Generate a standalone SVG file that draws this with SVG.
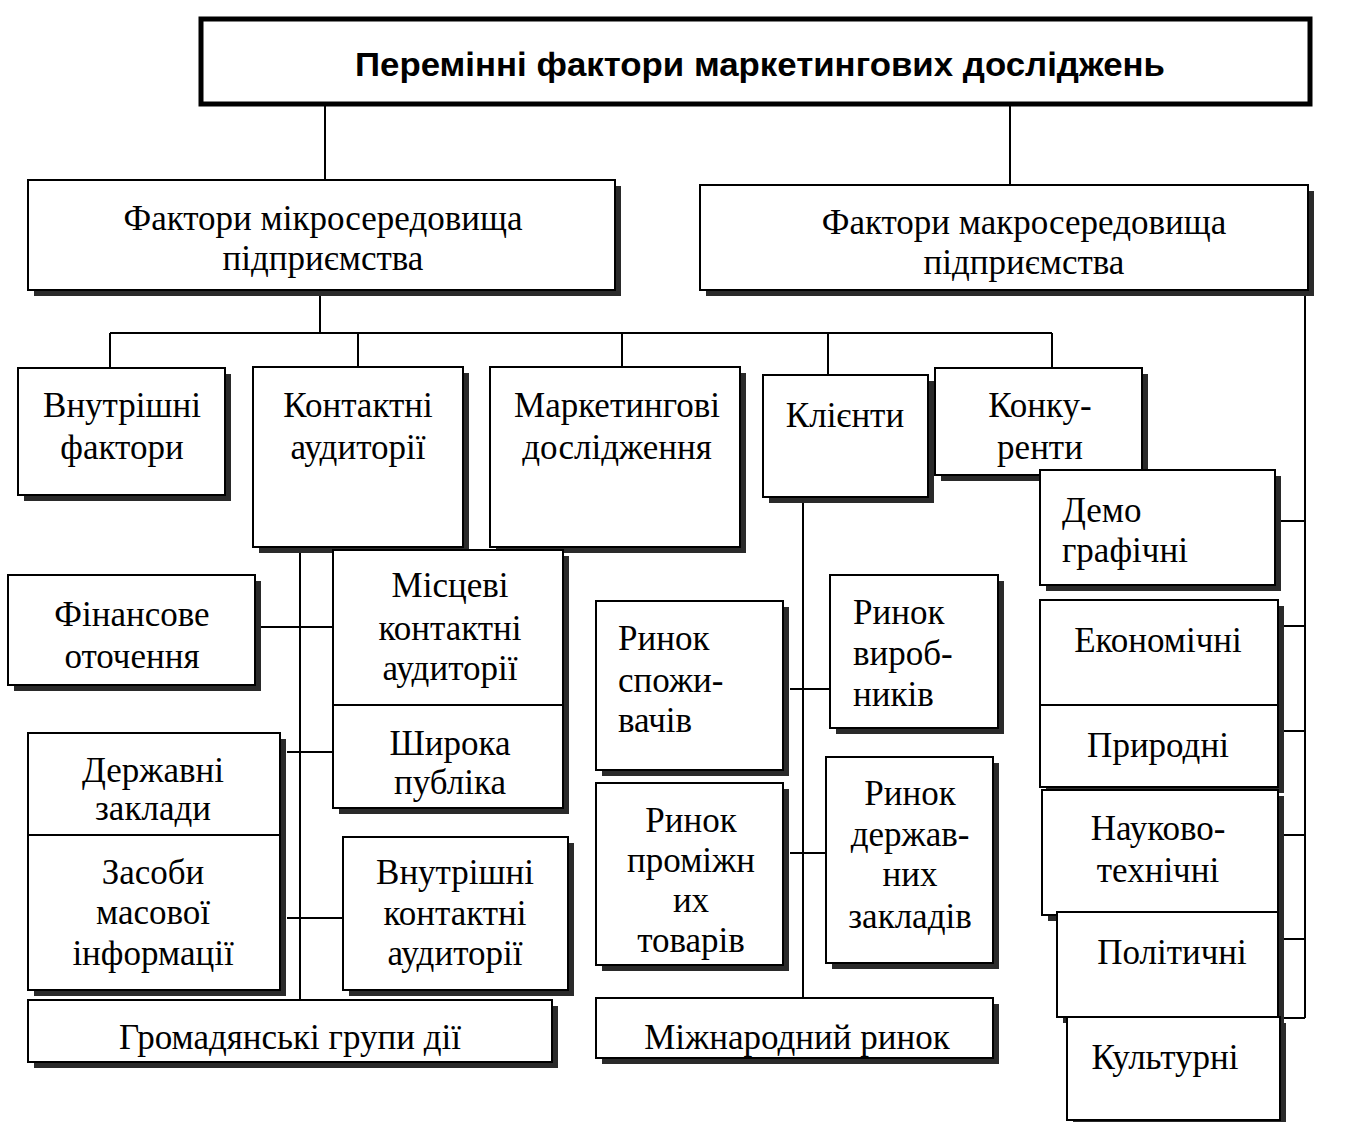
<svg xmlns="http://www.w3.org/2000/svg" width="1355" height="1122" viewBox="0 0 1355 1122">
<style>
.bg{fill:#fff}
.box{fill:#fff;stroke:#000;stroke-width:2}
.sh{fill:#2a2a2a}
.t{font-family:"Liberation Serif","Times New Roman",serif;font-size:35px;fill:#000;text-anchor:middle}
.l{text-anchor:start}
.h{font-family:"Liberation Sans",Arial,sans-serif;font-size:33px;font-weight:bold;fill:#000;text-anchor:middle}
.c line{stroke:#000;stroke-width:2}
</style>
<rect class="bg" x="0" y="0" width="1355" height="1122"/>
<g class="c" id="connectors">
<line x1="325" y1="105" x2="325" y2="180"/>
<line x1="1010" y1="105" x2="1010" y2="185"/>
<line x1="320" y1="296" x2="320" y2="333"/>
<line x1="110" y1="333" x2="1052" y2="333"/>
<line x1="110" y1="333" x2="110" y2="368"/>
<line x1="358" y1="333" x2="358" y2="367"/>
<line x1="622" y1="333" x2="622" y2="367"/>
<line x1="828" y1="333" x2="828" y2="375"/>
<line x1="1052" y1="333" x2="1052" y2="368"/>
<line x1="1305" y1="296" x2="1305" y2="1018"/>
<line x1="1281" y1="521" x2="1305" y2="521"/>
<line x1="1281" y1="626" x2="1305" y2="626"/>
<line x1="1281" y1="731" x2="1305" y2="731"/>
<line x1="1281" y1="835" x2="1305" y2="835"/>
<line x1="1281" y1="939" x2="1305" y2="939"/>
<line x1="1281" y1="1018" x2="1305" y2="1018"/>
<line x1="300" y1="543" x2="300" y2="1000"/>
<line x1="256" y1="627" x2="340" y2="627"/>
<line x1="287" y1="752" x2="333" y2="752"/>
<line x1="287" y1="918" x2="343" y2="918"/>
<line x1="803" y1="503" x2="803" y2="998"/>
<line x1="790" y1="689" x2="830" y2="689"/>
<line x1="790" y1="853" x2="826" y2="853"/>
</g>
<g id="n-title">
<rect x="201" y="19" width="1109" height="85" fill="#fff" stroke="#000" stroke-width="5"/>
<text class="h" x="760" y="76" textLength="810" lengthAdjust="spacingAndGlyphs">Перемінні фактори маркетингових досліджень</text>
</g>
<g id="n-micro">
<rect class="sh" x="34" y="186" width="587" height="110"/>
<rect class="box" x="28" y="180" width="587" height="110"/>
<text class="t" x="323" y="230">Фактори мікросередовища</text>
<text class="t" x="323" y="270">підприємства</text>
</g>
<g id="n-macro">
<rect class="sh" x="706" y="191" width="608" height="105"/>
<rect class="box" x="700" y="185" width="608" height="105"/>
<text class="t" x="1024" y="234">Фактори макросередовища</text>
<text class="t" x="1024" y="274">підприємства</text>
</g>
<g id="n-vnutr">
<rect class="sh" x="24" y="374" width="207" height="127"/>
<rect class="box" x="18" y="368" width="207" height="127"/>
<text class="t" x="122" y="417">Внутрішні</text>
<text class="t" x="122" y="459">фактори</text>
</g>
<g id="n-kontakt">
<rect class="sh" x="259" y="373" width="210" height="180"/>
<rect class="box" x="253" y="367" width="210" height="180"/>
<text class="t" x="358" y="417">Контактні</text>
<text class="t" x="358" y="459">аудиторії</text>
</g>
<g id="n-market">
<rect class="sh" x="496" y="373" width="250" height="180"/>
<rect class="box" x="490" y="367" width="250" height="180"/>
<text class="t" x="617" y="417">Маркетингові</text>
<text class="t" x="617" y="459">дослідження</text>
</g>
<g id="n-klienty">
<rect class="sh" x="769" y="381" width="165" height="122"/>
<rect class="box" x="763" y="375" width="165" height="122"/>
<text class="t" x="845" y="427">Клієнти</text>
</g>
<g id="n-konk">
<rect class="sh" x="941" y="374" width="207" height="107"/>
<rect class="box" x="935" y="368" width="207" height="107"/>
<text class="t" x="1040" y="417">Конку-</text>
<text class="t" x="1040" y="459">ренти</text>
</g>
<g id="n-demo">
<rect class="sh" x="1046" y="476" width="235" height="115"/>
<rect class="box" x="1040" y="470" width="235" height="115"/>
<text class="t l" x="1062" y="522">Демо</text>
<text class="t l" x="1062" y="562">графічні</text>
</g>
<g id="n-econ">
<rect class="sh" x="1046" y="606" width="238" height="105"/>
<rect class="box" x="1040" y="600" width="238" height="105"/>
<text class="t" x="1158" y="652">Економічні</text>
</g>
<g id="n-pryr">
<rect class="sh" x="1046" y="711" width="238" height="82"/>
<rect class="box" x="1040" y="705" width="238" height="82"/>
<text class="t" x="1158" y="757">Природні</text>
</g>
<g id="n-nauk">
<rect class="sh" x="1048" y="796" width="236" height="125"/>
<rect class="box" x="1042" y="790" width="236" height="125"/>
<text class="t" x="1158" y="840">Науково-</text>
<text class="t" x="1158" y="882">технічні</text>
</g>
<g id="n-polit">
<rect class="sh" x="1063" y="918" width="221" height="105"/>
<rect class="box" x="1057" y="912" width="221" height="105"/>
<text class="t" x="1172" y="964">Політичні</text>
</g>
<g id="n-kult">
<rect class="sh" x="1073" y="1023" width="213" height="103"/>
<rect class="box" x="1067" y="1017" width="213" height="103"/>
<text class="t" x="1165" y="1069">Культурні</text>
</g>
<g id="n-fin">
<rect class="sh" x="14" y="581" width="247" height="110"/>
<rect class="box" x="8" y="575" width="247" height="110"/>
<text class="t" x="132" y="626">Фінансове</text>
<text class="t" x="132" y="668">оточення</text>
</g>
<g id="n-mist">
<rect class="sh" x="339" y="556" width="230" height="155"/>
<rect class="box" x="333" y="550" width="230" height="155"/>
<text class="t" x="450" y="597">Місцеві</text>
<text class="t" x="450" y="640">контактні</text>
<text class="t" x="450" y="680">аудиторії</text>
</g>
<g id="n-shyr">
<rect class="sh" x="339" y="711" width="230" height="103"/>
<rect class="box" x="333" y="705" width="230" height="103"/>
<text class="t" x="450" y="755">Широка</text>
<text class="t" x="450" y="794">публіка</text>
</g>
<g id="n-derzh">
<rect class="sh" x="34" y="739" width="252" height="102"/>
<rect class="box" x="28" y="733" width="252" height="102"/>
<text class="t" x="153" y="782">Державні</text>
<text class="t" x="153" y="820">заклади</text>
</g>
<g id="n-zmi">
<rect class="sh" x="34" y="841" width="252" height="155"/>
<rect class="box" x="28" y="835" width="252" height="155"/>
<text class="t" x="153" y="884">Засоби</text>
<text class="t" x="153" y="924">масової</text>
<text class="t" x="153" y="965">інформації</text>
</g>
<g id="n-vnkont">
<rect class="sh" x="349" y="843" width="225" height="153"/>
<rect class="box" x="343" y="837" width="225" height="153"/>
<text class="t" x="455" y="884">Внутрішні</text>
<text class="t" x="455" y="925">контактні</text>
<text class="t" x="455" y="965">аудиторії</text>
</g>
<g id="n-hromad">
<rect class="sh" x="34" y="1006" width="524" height="62"/>
<rect class="box" x="28" y="1000" width="524" height="62"/>
<text class="t" x="290" y="1049">Громадянські групи дії</text>
</g>
<g id="n-spozh">
<rect class="sh" x="602" y="607" width="187" height="169"/>
<rect class="box" x="596" y="601" width="187" height="169"/>
<text class="t l" x="618" y="650">Ринок</text>
<text class="t l" x="618" y="692">спожи-</text>
<text class="t l" x="618" y="732">вачів</text>
</g>
<g id="n-vyrob">
<rect class="sh" x="836" y="581" width="168" height="153"/>
<rect class="box" x="830" y="575" width="168" height="153"/>
<text class="t l" x="853" y="624">Ринок</text>
<text class="t l" x="853" y="665">вироб-</text>
<text class="t l" x="853" y="706">ників</text>
</g>
<g id="n-promizh">
<rect class="sh" x="602" y="789" width="187" height="182"/>
<rect class="box" x="596" y="783" width="187" height="182"/>
<text class="t" x="691" y="832">Ринок</text>
<text class="t" x="691" y="872">проміжн</text>
<text class="t" x="691" y="912">их</text>
<text class="t" x="691" y="952">товарів</text>
</g>
<g id="n-derzhzakl">
<rect class="sh" x="832" y="763" width="167" height="206"/>
<rect class="box" x="826" y="757" width="167" height="206"/>
<text class="t" x="910" y="805">Ринок</text>
<text class="t" x="910" y="846">держав-</text>
<text class="t" x="910" y="886">них</text>
<text class="t" x="910" y="928">закладів</text>
</g>
<g id="n-mizhnar">
<rect class="sh" x="602" y="1004" width="397" height="60"/>
<rect class="box" x="596" y="998" width="397" height="60"/>
<text class="t" x="797" y="1049">Міжнародний ринок</text>
</g>
</svg>
